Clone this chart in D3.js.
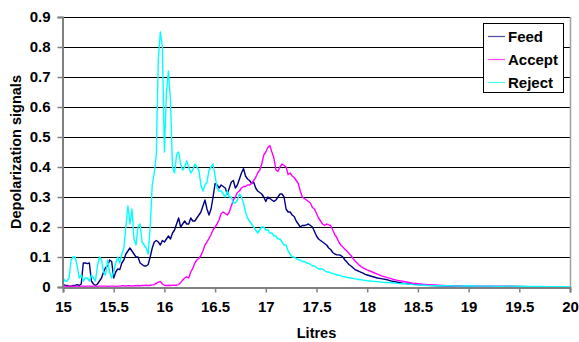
<!DOCTYPE html>
<html>
<head>
<meta charset="utf-8">
<script src="https://cdn.jsdelivr.net/npm/d3@7"></script>
<style>
  html, body { margin: 0; padding: 0; background: #fff; }
  svg { display: block; }
  text { font-family: Arial, "Liberation Sans", sans-serif; font-weight: bold; fill: #000; }
</style>
</head>
<body>
<svg id="chart" width="579" height="342"></svg>
<script>
// Elution volume (litres)
const litres = [
  15.00,15.02,15.04,15.06,15.08,15.10,15.12,15.14,15.16,15.18,
  15.20,15.22,15.24,15.26,15.28,15.30,15.32,15.34,15.36,15.38,
  15.40,15.42,15.44,15.46,15.48,15.50,15.52,15.54,15.56,15.58,
  15.60,15.62,15.64,15.66,15.68,15.70,15.72,15.74,15.76,15.78,
  15.80,15.82,15.84,15.86,15.88,15.90,15.92,15.94,15.96,15.98,
  16.00,16.02,16.04,16.06,16.08,16.10,16.12,16.14,16.16,16.18,
  16.20,16.22,16.24,16.26,16.28,16.30,16.32,16.34,16.36,16.38,
  16.40,16.42,16.44,16.46,16.48,16.50,16.52,16.54,16.56,16.58,
  16.60,16.62,16.64,16.66,16.68,16.70,16.72,16.74,16.76,16.78,
  16.80,16.82,16.84,16.86,16.88,16.90,16.92,16.94,16.96,16.98,
  17.00,17.02,17.04,17.06,17.08,17.10,17.12,17.14,17.16,17.18,
  17.20,17.22,17.24,17.26,17.28,17.30,17.32,17.34,17.36,17.38,
  17.40,17.42,17.44,17.46,17.48,17.50,17.52,17.54,17.56,17.58,
  17.60,17.62,17.64,17.66,17.68,17.70,17.72,17.74,17.76,17.78,
  17.80,17.82,17.84,17.86,17.88,17.90,17.92,17.94,17.96,17.98,
  18.00,
  18.05,18.10,18.15,18.20,18.25,18.30,18.35,18.40,18.45,18.50,18.55,18.60,
  18.7,18.8,18.9,19.0,19.1,19.2,19.3,19.4,19.5,19.6,19.7,19.8,19.9,20.0
];

const feed = [
  0.01,0.005,0.005,0.003,0.003,0.005,0.005,0.008,0.005,0.01,
  0.08,0.08,0.078,0.08,0.02,0.01,0.005,0.01,0.02,0.03,
  0.05,0.065,0.07,0.09,0.085,0.03,0.05,0.06,0.058,0.08,
  0.09,0.11,0.12,0.13,0.12,0.11,0.10,0.10,0.08,0.075,
  0.07,0.07,0.075,0.10,0.13,0.15,0.155,0.15,0.14,0.155,
  0.15,0.16,0.17,0.16,0.18,0.19,0.21,0.23,0.20,0.21,
  0.22,0.21,0.21,0.23,0.22,0.22,0.23,0.24,0.25,0.27,
  0.29,0.26,0.24,0.26,0.30,0.345,0.34,0.33,0.34,0.335,
  0.33,0.31,0.33,0.35,0.355,0.33,0.34,0.36,0.38,0.395,
  0.37,0.36,0.355,0.345,0.35,0.33,0.32,0.315,0.31,0.30,
  0.285,0.30,0.295,0.29,0.285,0.29,0.30,0.31,0.31,0.30,
  0.26,0.25,0.25,0.24,0.235,0.22,0.21,0.20,0.205,0.205,
  0.207,0.21,0.205,0.20,0.185,0.17,0.16,0.155,0.15,0.145,
  0.14,0.13,0.125,0.115,0.11,0.107,0.107,0.105,0.10,0.09,
  0.083,0.075,0.07,0.064,0.058,0.055,0.052,0.049,0.046,0.042,
  0.04,
  0.035,0.03,0.027,0.024,0.019,0.016,0.013,0.011,0.009,0.008,0.007,0.006,
  0.004,0.003,0.003,0.002,0.002,0.002,0.002,0.002,0.002,0.001,0.001,0.001,0.001,0.001
];

const accept = [
  0.003,0.003,0.002,0.003,0.003,0.002,0.003,0.003,0.002,0.003,
  0.003,0.002,0.003,0.003,0.002,0.003,0.003,0.002,0.003,0.003,
  0.003,0.003,0.002,0.003,0.003,0.003,0.002,0.003,0.003,0.004,
  0.004,0.003,0.004,0.004,0.003,0.004,0.004,0.005,0.004,0.005,
  0.005,0.006,0.005,0.006,0.007,0.008,0.012,0.016,0.018,0.01,
  0.006,0.005,0.006,0.005,0.006,0.006,0.006,0.008,0.015,0.023,
  0.03,0.034,0.03,0.05,0.062,0.08,0.09,0.095,0.105,0.12,
  0.14,0.15,0.162,0.175,0.19,0.20,0.21,0.225,0.245,0.25,
  0.245,0.24,0.25,0.27,0.29,0.30,0.315,0.32,0.33,0.335,
  0.335,0.34,0.34,0.345,0.355,0.365,0.38,0.39,0.41,0.44,
  0.45,0.465,0.472,0.45,0.43,0.39,0.385,0.40,0.41,0.405,
  0.40,0.375,0.38,0.37,0.365,0.355,0.345,0.32,0.30,0.295,
  0.29,0.285,0.28,0.265,0.26,0.245,0.23,0.22,0.21,0.205,
  0.21,0.207,0.205,0.19,0.175,0.165,0.15,0.14,0.133,0.126,
  0.12,0.112,0.105,0.095,0.087,0.08,0.073,0.068,0.064,0.06,
  0.057,
  0.05,0.043,0.036,0.031,0.026,0.022,0.019,0.016,0.013,0.011,0.009,0.008,
  0.006,0.004,0.003,0.003,0.002,0.002,0.002,0.002,0.001,0.001,0.001,0.001,0.001,0.001
];

const reject = [
  0.03,0.02,0.02,0.03,0.09,0.10,0.10,0.07,0.03,0.04,
  0.02,0.03,0.03,0.02,0.04,0.03,0.02,0.07,0.10,0.09,
  0.05,0.04,0.09,0.05,0.03,0.05,0.08,0.10,0.08,0.11,
  0.13,0.20,0.27,0.21,0.26,0.16,0.14,0.20,0.21,0.15,
  0.14,0.13,0.11,0.20,0.34,0.38,0.44,0.76,0.85,0.80,
  0.45,0.65,0.72,0.62,0.40,0.38,0.44,0.45,0.41,0.39,
  0.40,0.42,0.40,0.38,0.39,0.41,0.40,0.39,0.34,0.32,
  0.34,0.35,0.39,0.40,0.41,0.37,0.33,0.32,0.32,0.31,
  0.30,0.32,0.30,0.30,0.28,0.28,0.29,0.31,0.30,0.28,
  0.25,0.23,0.22,0.21,0.20,0.19,0.18,0.19,0.20,0.20,
  0.19,0.19,0.18,0.18,0.17,0.17,0.16,0.16,0.15,0.14,
  0.14,0.12,0.11,0.10,0.10,0.095,0.09,0.09,0.085,0.085,
  0.08,0.08,0.075,0.07,0.07,0.065,0.06,0.06,0.06,0.055,
  0.05,0.05,0.047,0.045,0.043,0.04,0.04,0.037,0.035,0.034,
  0.032,0.031,0.03,0.029,0.027,0.026,0.025,0.024,0.023,0.022,
  0.021,
  0.019,0.018,0.016,0.015,0.014,0.012,0.011,0.010,0.008,0.007,0.006,0.005,
  0.004,0.004,0.003,0.004,0.003,0.003,0.002,0.003,0.002,0.002,0.002,0.001,0.001,0.001
];

const seriesNames = ["Feed", "Accept", "Reject"];
const seriesColors = ["#000080", "#FF00FF", "#00FFFF"];
const seriesValues = [feed, accept, reject];

const xTicks = [15, 15.5, 16, 16.5, 17, 17.5, 18, 18.5, 19, 19.5, 20];
const xTickLabels = ["15", "15.5", "16", "16.5", "17", "17.5", "18", "18.5", "19", "19.5", "20"];
const yTicks = [0, 0.1, 0.2, 0.3, 0.4, 0.5, 0.6, 0.7, 0.8, 0.9];
const yTickLabels = ["0", "0.1", "0.2", "0.3", "0.4", "0.5", "0.6", "0.7", "0.8", "0.9"];

const svg = d3.select("#chart");
const plot = { left: 63, right: 570, top: 17, bottom: 287 };
const fontSize = 15;

const x = d3.scaleLinear().domain([15, 20]).range([plot.left, plot.right]);
const y = d3.scaleLinear().domain([0, 0.9]).range([plot.bottom, plot.top]);

// horizontal gridlines
svg.append("g")
  .selectAll("line")
  .data(yTicks.slice(1))
  .join("line")
  .attr("x1", plot.left).attr("x2", plot.right)
  .attr("y1", d => Math.round(y(d)) + 0.5).attr("y2", d => Math.round(y(d)) + 0.5)
  .attr("stroke", "#000").attr("stroke-width", 1);

// right border of plot area
svg.append("line")
  .attr("x1", plot.right + 0.5).attr("x2", plot.right + 0.5)
  .attr("y1", plot.top).attr("y2", plot.bottom)
  .attr("stroke", "#a0a0a0").attr("stroke-width", 1.5);

// series
const line = d3.line()
  .x((d, i) => x(litres[i]))
  .y(d => y(d));

svg.append("g")
  .selectAll("path")
  .data(seriesValues)
  .join("path")
  .attr("d", d => line(d))
  .attr("fill", "none")
  .attr("stroke", (d, i) => seriesColors[i])
  .attr("stroke-width", 1.4)
  .attr("stroke-linejoin", "round");

// axes
const yAxis = d3.axisLeft(y)
  .tickValues(yTicks)
  .tickFormat((d, i) => yTickLabels[i])
  .tickSize(5)
  .tickPadding(7);
const gy = svg.append("g")
  .attr("transform", `translate(${plot.left - 0.5},0)`)
  .call(yAxis);

const xAxis = d3.axisBottom(x)
  .tickValues(xTicks)
  .tickFormat((d, i) => xTickLabels[i])
  .tickSize(5)
  .tickPadding(9);
const gx = svg.append("g")
  .attr("transform", `translate(0,${plot.bottom + 0.5})`)
  .call(xAxis);

[gx, gy].forEach(g => {
  g.select(".domain").attr("stroke", "#808080").attr("stroke-width", 2);
  g.selectAll(".tick line").attr("stroke", "#808080").attr("stroke-width", 1.5);
  g.selectAll(".tick text")
    .attr("font-family", "Arial, 'Liberation Sans', sans-serif")
    .attr("font-weight", "bold")
    .attr("font-size", fontSize)
    .attr("fill", "#000");
});

// axis titles
svg.append("text")
  .attr("transform", `translate(21,${(plot.top + plot.bottom) / 2}) rotate(-90)`)
  .attr("text-anchor", "middle")
  .attr("font-size", 14.5)
  .text("Depolarization signals");

svg.append("text")
  .attr("x", (plot.left + plot.right) / 2)
  .attr("y", 338)
  .attr("text-anchor", "middle")
  .attr("font-size", 14.5)
  .text("Litres");

// legend
const legend = svg.append("g").attr("transform", "translate(483.5,23.5)");
legend.append("rect")
  .attr("width", 80).attr("height", 69)
  .attr("fill", "#fff").attr("stroke", "#000").attr("stroke-width", 1);
const item = legend.selectAll("g.item")
  .data(seriesNames)
  .join("g")
  .attr("class", "item")
  .attr("transform", (d, i) => `translate(0,${13 + i * 23})`);
item.append("line")
  .attr("x1", 4.5).attr("x2", 21.5)
  .attr("stroke", (d, i) => seriesColors[i])
  .attr("stroke-opacity", 0.7)
  .attr("stroke-width", 1.2);
item.append("text")
  .attr("x", 24.5).attr("dy", "0.36em")
  .attr("font-size", fontSize)
  .text(d => d);
</script>
</body>
</html>
